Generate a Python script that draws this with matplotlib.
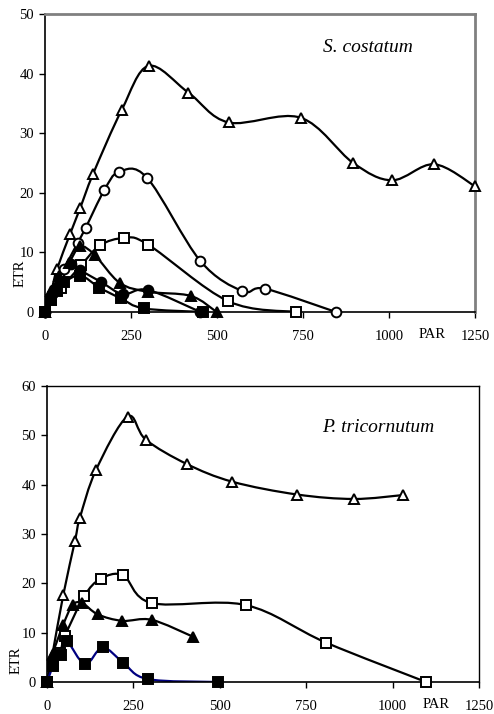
import matplotlib
matplotlib.use("Agg")
import matplotlib.pyplot as plt
from matplotlib.path import Path
from matplotlib.patches import PathPatch
from matplotlib.transforms import blended_transform_factory

plt.rcParams["font.family"] = ["Liberation Serif", "DejaVu Serif"]

# S. costatum (top panel)
sc_tri_open_x = [0, 18, 35, 73, 102, 140, 223, 301, 417, 534, 743, 896, 1009, 1131, 1250]
sc_tri_open_y = [0, 3.5, 7.2, 13.1, 17.4, 23.2, 33.9, 41.3, 36.8, 31.8, 32.6, 25.0, 22.1, 24.8, 21.1]
sc_circ_open_x = [0, 20, 55, 95, 118, 172, 215, 297, 451, 574, 640, 846]
sc_circ_open_y = [0, 3.0, 7.2, 11.6, 14.1, 20.4, 23.5, 22.5, 8.6, 3.5, 3.9, 0]
sc_sq_open_x = [0, 18, 47, 106, 160, 230, 300, 533, 730]
sc_sq_open_y = [0, 2.0, 4.0, 7.9, 11.2, 12.4, 11.3, 1.8, 0]
sc_tri_fill_x = [0, 20, 40, 70, 102, 144, 217, 299, 424, 499]
sc_tri_fill_y = [0, 3.5, 6.0, 8.3, 11.0, 9.6, 4.9, 3.4, 2.7, 0]
sc_circ_fill_x = [0, 20, 45, 75, 103, 164, 227, 299, 452]
sc_circ_fill_y = [0, 3.0, 5.0, 8.0, 7.0, 5.0, 3.0, 3.7, 0]
sc_sq_fill_x = [0, 18, 35, 55, 103, 158, 220, 288, 460]
sc_sq_fill_y = [0, 2.0, 3.5, 5.0, 6.1, 4.1, 2.3, 0.6, 0]

# P. tricornutum (bottom panel)
pt_tri_open_x = [0, 16, 47, 81, 95, 142, 233, 286, 404, 536, 724, 888, 1031]
pt_tri_open_y = [0, 5.7, 17.6, 28.6, 33.2, 43.0, 53.8, 49.1, 44.2, 40.6, 38.0, 37.1, 37.9]
pt_sq_open_x = [0, 16, 38, 52, 108, 155, 221, 303, 575, 807, 1097]
pt_sq_open_y = [0, 3.6, 5.9, 9.3, 17.4, 20.9, 21.6, 16.0, 15.6, 8.0, 0]
pt_tri_fill_x = [0, 16, 47, 74, 102, 147, 218, 303, 422]
pt_tri_fill_y = [0, 5.5, 11.6, 15.6, 16.0, 13.7, 12.4, 12.6, 9.2]
pt_sq_fill_x = [0, 18, 42, 57, 110, 161, 221, 291, 494]
pt_sq_fill_y = [0, 3.2, 5.5, 8.3, 3.6, 7.0, 3.9, 0.6, 0]

x_ticks = [0, 250, 500, 750, 1000, 1250]


def smooth_line(ax, xs, ys, color="black"):
    # Excel-style smoothed line: cubic bezier through the points
    pts = list(zip(xs, ys))
    n = len(pts)
    verts = [pts[0]]
    codes = [Path.MOVETO]
    for i in range(n - 1):
        p0 = pts[i - 1] if i > 0 else pts[i]
        p1 = pts[i]
        p2 = pts[i + 1]
        p3 = pts[i + 2] if i + 2 < n else pts[i + 1]
        c1 = (p1[0] + (p2[0] - p0[0]) / 6, p1[1] + (p2[1] - p0[1]) / 6)
        c2 = (p2[0] - (p3[0] - p1[0]) / 6, p2[1] - (p3[1] - p1[1]) / 6)
        verts += [c1, c2, p2]
        codes += [Path.CURVE4] * 3
    ax.add_patch(PathPatch(Path(verts, codes), facecolor="none",
                           edgecolor=color, lw=1.6, zorder=2))


def series(ax, xs, ys, marker, filled, line_color="black", ms=7):
    smooth_line(ax, xs, ys, line_color)
    ax.plot(xs, ys, ls="none", marker=marker, ms=ms,
            mfc="black" if filled else "white", mec="black", mew=1.4,
            clip_on=False, zorder=3)


def style_axes(ax, ymax, frame_color, frame_lw):
    ax.set_xlim(0, 1250)
    ax.set_ylim(0, ymax)
    ax.set_xticks(x_ticks)
    ax.set_xticklabels([str(t) for t in x_ticks])
    ax.set_yticks(range(0, ymax + 1, 10))
    ax.tick_params(direction="out", length=4, width=1, labelsize=10.5)
    ax.tick_params(axis="x", pad=9)
    ax.tick_params(axis="y", pad=4)
    for s in ["left", "bottom"]:
        ax.spines[s].set_color("black")
        ax.spines[s].set_linewidth(1.2)
    for s in ["top", "right"]:
        ax.spines[s].set_color(frame_color)
        ax.spines[s].set_linewidth(frame_lw)
    trans = blended_transform_factory(ax.transData, ax.transAxes)
    ax.text(1125, -0.075, "PAR", transform=trans, ha="center", va="center",
            fontsize=10.5)


fig = plt.figure(figsize=(4.94, 7.14), dpi=100)

ax1 = fig.add_axes([0.0911, 0.563, 0.8704, 0.4174])
series(ax1, sc_tri_open_x, sc_tri_open_y, "^", False)
series(ax1, sc_circ_open_x, sc_circ_open_y, "o", False)
series(ax1, sc_sq_open_x, sc_sq_open_y, "s", False)
series(ax1, sc_tri_fill_x, sc_tri_fill_y, "^", True)
series(ax1, sc_circ_fill_x, sc_circ_fill_y, "o", True)
series(ax1, sc_sq_fill_x, sc_sq_fill_y, "s", True)
style_axes(ax1, 50, "#808080", 2)
ax1.text(0.751, 0.889, "S. costatum", transform=ax1.transAxes, ha="center",
         va="center", fontsize=14, style="italic")
ax1.text(-0.058, 0.13, "ETR", transform=ax1.transAxes, ha="center",
         va="center", rotation=90, fontsize=10.5)

ax2 = fig.add_axes([0.0951, 0.0448, 0.8745, 0.4146])
series(ax2, pt_tri_open_x, pt_tri_open_y, "^", False)
series(ax2, pt_sq_open_x, pt_sq_open_y, "s", False)
series(ax2, pt_tri_fill_x, pt_tri_fill_y, "^", True)
series(ax2, pt_sq_fill_x, pt_sq_fill_y, "s", True, line_color="#000080")
style_axes(ax2, 60, "black", 1)
ax2.text(0.766, 0.861, "P. tricornutum", transform=ax2.transAxes, ha="center",
         va="center", fontsize=14, style="italic")
ax2.text(-0.072, 0.074, "ETR", transform=ax2.transAxes, ha="center",
         va="center", rotation=90, fontsize=10.5)

fig.savefig("out.png", dpi=100)
